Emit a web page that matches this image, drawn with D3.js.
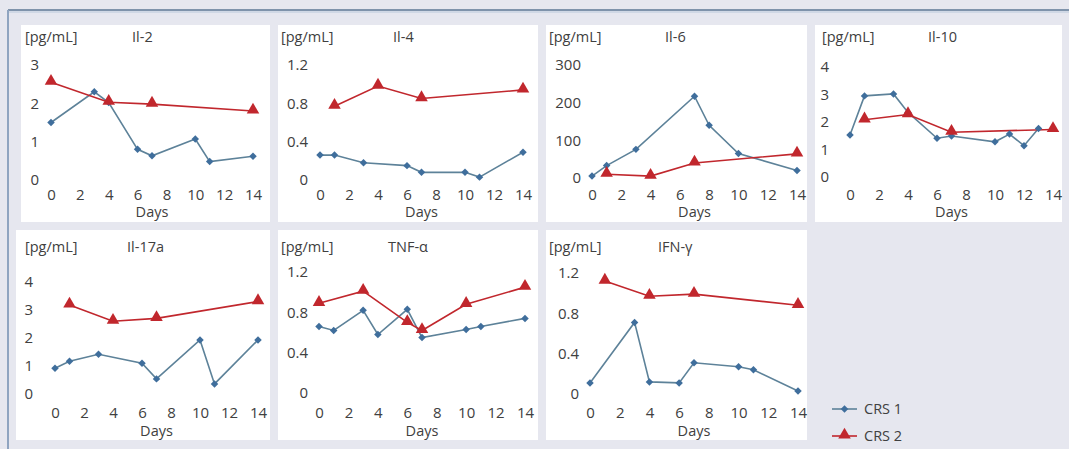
<!DOCTYPE html>
<html>
<head>
<meta charset="utf-8">
<script src="https://cdn.jsdelivr.net/npm/d3@7"></script>
<style>
  body { margin: 0; background: #e6e7ef; }
  svg { display: block; }
</style>
</head>
<body>
<svg id="chart" width="1069" height="449"></svg>
<script>
// ---- data ----
const panelTitles = ["Il-2", "Il-4", "Il-6", "Il-10", "Il-17a", "TNF-\u03b1", "IFN-\u03b3"];
const unitLabel = "[pg/mL]";
const xAxisLabel = "Days";
const xTickValues = [0, 2, 4, 6, 8, 10, 12, 14];
const yTickValues = [
  [0, 1, 2, 3],
  [0, 0.4, 0.8, 1.2],
  [0, 100, 200, 300],
  [0, 1, 2, 3, 4],
  [0, 1, 2, 3, 4],
  [0, 0.4, 0.8, 1.2],
  [0, 0.4, 0.8, 1.2]
];
const seriesNames = ["CRS 1", "CRS 2"];

const crs1Days = [
  [0, 3, 4, 6, 7, 10, 11, 14],
  [0, 1, 3, 6, 7, 10, 11, 14],
  [0, 1, 3, 7, 8, 10, 14],
  [0, 1, 3, 4, 6, 7, 10, 11, 12, 13],
  [0, 1, 3, 6, 7, 10, 11, 14],
  [0, 1, 3, 4, 6, 7, 10, 11, 14],
  [0, 3, 4, 6, 7, 10, 11, 14]
];
const crs1Values = [
  [1.5, 2.3, 2.02, 0.8, 0.63, 1.07, 0.48, 0.62],
  [0.26, 0.26, 0.18, 0.15, 0.08, 0.08, 0.03, 0.29],
  [5, 33, 76, 217, 140, 65, 20],
  [1.53, 2.95, 3.02, 2.35, 1.41, 1.49, 1.28, 1.56, 1.14, 1.76],
  [0.92, 1.17, 1.42, 1.1, 0.54, 1.93, 0.36, 1.93],
  [0.66, 0.62, 0.82, 0.58, 0.83, 0.55, 0.63, 0.66, 0.74],
  [0.11, 0.71, 0.12, 0.11, 0.31, 0.27, 0.24, 0.03]
];
const crs2Days = [
  [0, 4, 7, 14],
  [1, 4, 7, 14],
  [1, 4, 7, 14],
  [1, 4, 7, 14],
  [1, 4, 7, 14],
  [0, 3, 6, 7, 10, 14],
  [1, 4, 7, 14]
];
const crs2Values = [
  [2.55, 2.03, 1.98, 1.8],
  [0.77, 0.98, 0.85, 0.94],
  [10, 5, 40, 64],
  [2.08, 2.27, 1.63, 1.73],
  [3.18, 2.6, 2.7, 3.3],
  [0.89, 1.01, 0.7, 0.62, 0.88, 1.05],
  [1.12, 0.97, 0.99, 0.88]
];

// ---- layout (pixels) ----
const boxes = [
  [21, 25, 270, 222], [278, 25, 538, 222], [546, 25, 807, 222], [815, 25, 1062, 222],
  [16, 230, 270, 440], [278, 230, 538, 440], [546, 230, 807, 440]
];
const xRanges = [[51, 253], [320, 523], [592, 797], [850, 1053], [55, 258], [319, 525], [590, 798]];
const yRanges = [[180, 65], [180, 65], [178, 65], [177, 67], [394, 282], [393, 272], [394, 273]];
const yLabelRight = [39, 308, 581, 829, 33, 308, 579];
const headerY = [37, 37, 37, 37, 247, 247, 247];
const headerX = [25, 281, 549, 822, 25, 281, 549];
const titleX = [132, 393, 665, 928, 127, 388, 658];
const tickCenterY = [195, 195, 195, 195, 413, 413, 413];
const daysY = [212, 212, 212, 212, 431, 431, 431];

const blueLine = "#5d8299", blueMark = "#3f6e9c", red = "#c1272d";
const textColor = "#404040";
const font = "'Open Sans', sans-serif";

const svg = d3.select("#chart");

// outer frame
svg.append("line").attr("x1", 8).attr("x2", 1069).attr("y1", 10).attr("y2", 10)
  .attr("stroke", "#7f93ab").attr("stroke-width", 2);
svg.append("line").attr("x1", 8).attr("x2", 1069).attr("y1", 12).attr("y2", 12)
  .attr("stroke", "#c9d3e2").attr("stroke-width", 1.5);
svg.append("line").attr("x1", 8).attr("x2", 8).attr("y1", 10).attr("y2", 449)
  .attr("stroke", "#8fa4c0").attr("stroke-width", 2);

const diamond = d3.symbol().type(d3.symbolSquare).size(28);
const triangle = d3.symbol().type(d3.symbolTriangle).size(68);

panelTitles.forEach((title, i) => {
  const b = boxes[i];
  const g = svg.append("g");
  g.append("rect").attr("x", b[0]).attr("y", b[1])
    .attr("width", b[2] - b[0]).attr("height", b[3] - b[1]).attr("fill", "#fff");

  const yt = yTickValues[i];
  const x = d3.scaleLinear().domain([0, 14]).range(xRanges[i]);
  const y = d3.scaleLinear().domain([0, yt[yt.length - 1]]).range(yRanges[i]);

  // Y axis labels only
  const ya = g.append("g")
    .attr("transform", "translate(" + xRanges[i][0] + ",0)")
    .call(d3.axisLeft(y).tickValues(yt).tickSize(0)
      .tickPadding(xRanges[i][0] - yLabelRight[i]).tickFormat(d3.format("~g")));
  ya.select(".domain").remove();
  ya.selectAll("text").attr("font-family", font).attr("font-size", 15).attr("fill", textColor);

  // X axis labels only
  const xa = g.append("g")
    .attr("transform", "translate(0," + yRanges[i][0] + ")")
    .call(d3.axisBottom(x).tickValues(xTickValues).tickSize(0)
      .tickPadding(tickCenterY[i] - yRanges[i][0] - 5.5));
  xa.select(".domain").remove();
  xa.selectAll("text").attr("font-family", font).attr("font-size", 15).attr("fill", textColor);

  g.append("text").attr("x", (xRanges[i][0] + xRanges[i][1]) / 2).attr("y", daysY[i] + 5)
    .attr("text-anchor", "middle").attr("font-family", font).attr("font-size", 14.5)
    .attr("fill", textColor).text(xAxisLabel);
  g.append("text").attr("x", headerX[i]).attr("y", headerY[i] + 5)
    .attr("font-family", font).attr("font-size", 14.5).attr("fill", textColor).text(unitLabel);
  g.append("text").attr("x", titleX[i]).attr("y", headerY[i] + 5)
    .attr("font-family", font).attr("font-size", 14.5).attr("fill", textColor).text(title);

  const line = d3.line().x(d => x(d[0])).y(d => y(d[1]));
  const s1 = crs1Days[i].map((d, k) => [d, crs1Values[i][k]]);
  const s2 = crs2Days[i].map((d, k) => [d, crs2Values[i][k]]);

  g.append("path").datum(s1).attr("d", line).attr("fill", "none")
    .attr("stroke", blueLine).attr("stroke-width", 1.6);
  g.append("path").datum(s2).attr("d", line).attr("fill", "none")
    .attr("stroke", red).attr("stroke-width", 1.6);

  g.selectAll(".d1").data(s1).enter().append("path")
    .attr("d", diamond)
    .attr("transform", d => "translate(" + x(d[0]) + "," + y(d[1]) + ") rotate(45)")
    .attr("fill", blueMark);
  g.selectAll(".d2").data(s2).enter().append("path")
    .attr("d", triangle)
    .attr("transform", d => "translate(" + x(d[0]) + "," + (y(d[1]) - 1) + ")")
    .attr("fill", red);
});

// legend
const legendY = [409, 436];
seriesNames.forEach((name, k) => {
  const lg = svg.append("g").attr("transform", "translate(0," + legendY[k] + ")");
  lg.append("line").attr("x1", 832).attr("x2", 857).attr("y1", 0).attr("y2", 0)
    .attr("stroke", k === 0 ? blueLine : red).attr("stroke-width", 1.6);
  lg.append("path").attr("d", k === 0 ? diamond : triangle)
    .attr("transform", "translate(844.5," + (k === 0 ? 0 : -1) + ")" + (k === 0 ? " rotate(45)" : ""))
    .attr("fill", k === 0 ? blueMark : red);
  lg.append("text").attr("x", 864).attr("y", 5).attr("font-family", font)
    .attr("font-size", 14.5).attr("fill", textColor).text(name);
});
</script>
</body>
</html>
